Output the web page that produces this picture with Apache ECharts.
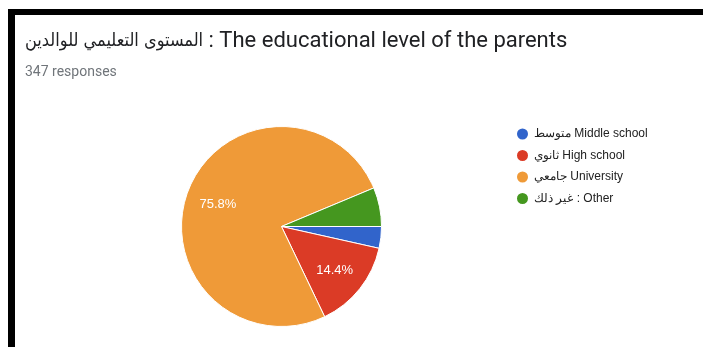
<!DOCTYPE html>
<html>
<head>
<meta charset="utf-8">
<script src="https://cdn.jsdelivr.net/npm/echarts@6/dist/echarts.min.js"></script>
<style>
  html, body { margin: 0; padding: 0; background: #fff; }
  #chart { position: absolute; left: 0; top: 0; width: 703px; height: 347px; }
  #frame { position: absolute; left: 8px; top: 9px; right: -10px; bottom: -10px;
           border-top: 6px solid #000; border-left: 7px solid #000; pointer-events: none; }
</style>
</head>
<body>
<div id="chart"></div>
<div id="frame"></div>
<script>
const titleArabic = 'المستوى التعليمي للوالدين';
const titleEnglish = ' : The educational level of the parents';
const subtitleText = '347 responses';
const categories = ['متوسط Middle school', 'ثانوي High school', 'جامعي University', 'غير ذلك : Other'];
const shares = [3.5, 14.4, 75.8, 6.3];
const colors = ['#3164CB', '#DB3B26', '#EF9A38', '#45971F'];

const chart = echarts.init(document.getElementById('chart'), null, { renderer: 'canvas' });
const pieData = categories.map((name, i) => ({ name: name, value: shares[i] }));

chart.setOption({
  animation: false,
  color: colors,
  title: [
    { text: '{ar|' + titleArabic + '}{en|' + titleEnglish + '}', left: 25, top: 28, padding: 0,
      textStyle: {
        fontWeight: 'normal',
        rich: {
          ar: { fontFamily: 'DejaVu Sans Condensed', fontWeight: 'normal', fontSize: 18, color: '#202124', lineHeight: 26 },
          en: { fontFamily: 'Roboto', fontWeight: 'normal', fontSize: 22, color: '#202124', lineHeight: 26 }
        }
      } },
    { text: subtitleText, left: 25, top: 65, padding: 0,
      textStyle: { fontFamily: 'Roboto', fontSize: 14, fontWeight: 'normal', color: '#70757a' } }
  ],
  legend: {
    orient: 'vertical', left: 510, top: 121.5,
    icon: 'circle', itemWidth: 13, itemHeight: 13, itemGap: 6.5,
    data: categories,
    textStyle: { fontFamily: 'Liberation Sans', fontSize: 12, color: '#222' }
  },
  series: [
    {
      type: 'pie', name: 'main',
      center: [281.5, 226.5], radius: [0, 100],
      startAngle: 0, clockwise: true,
      itemStyle: { borderColor: '#fff', borderWidth: 1 },
      label: { show: false }, labelLine: { show: false },
      emphasis: { disabled: true },
      data: pieData
    },
    {
      type: 'pie', name: 'labels', silent: true,
      center: [281.5, 226.5], radius: [30, 100],
      startAngle: 0, clockwise: true,
      percentPrecision: 1,
      minShowLabelAngle: 30,
      itemStyle: { color: 'rgba(0,0,0,0)', borderWidth: 0 },
      label: { show: true, position: 'inside', formatter: '{d}%', offset: [0, 2],
               fontFamily: 'Liberation Sans', fontSize: 13, color: '#fff' },
      labelLine: { show: false },
      emphasis: { disabled: true },
      data: pieData
    }
  ]
});
</script>
</body>
</html>
